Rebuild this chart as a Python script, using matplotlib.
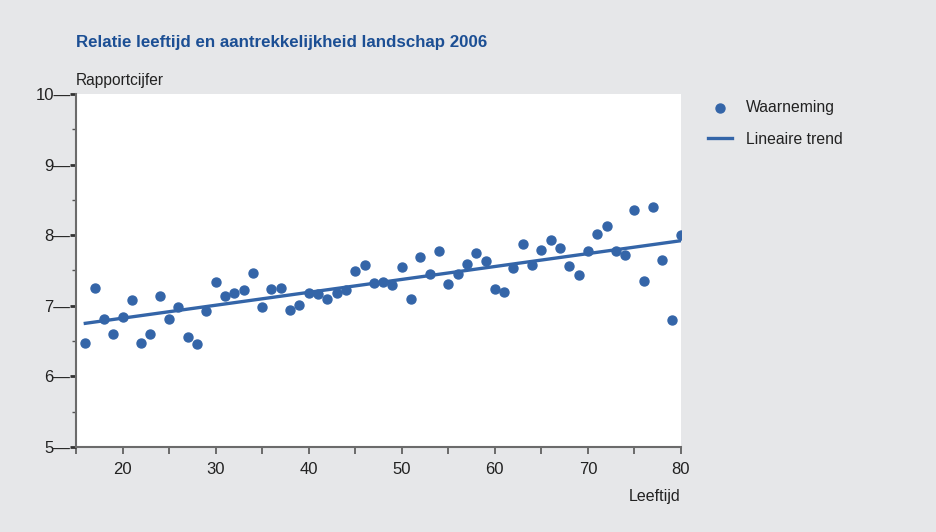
import numpy as np
import matplotlib
matplotlib.use("Agg")
from matplotlib import pyplot as plt
from matplotlib.ticker import MultipleLocator

# leeftijd en gemiddeld rapportcijfer
leeftijd = np.arange(16, 81)
rapportcijfer = np.array([
    6.47, 7.25, 6.81, 6.60, 6.84, 7.08, 6.47, 6.60, 7.14, 6.81,
    6.98, 6.56, 6.46, 6.93, 7.34, 7.14, 7.18, 7.22, 7.46, 6.98,
    7.24, 7.25, 6.94, 7.01, 7.18, 7.17, 7.10, 7.18, 7.22, 7.49,
    7.58, 7.32, 7.34, 7.29, 7.55, 7.10, 7.69, 7.45, 7.78, 7.31,
    7.45, 7.59, 7.75, 7.63, 7.24, 7.20, 7.54, 7.88, 7.58, 7.79,
    7.93, 7.82, 7.56, 7.44, 7.78, 8.02, 8.13, 7.78, 7.72, 8.36,
    7.35, 8.40, 7.65, 6.80, 8.00,
])

x_ticks = [20, 30, 40, 50, 60, 70, 80]
y_ticks = [5, 6, 7, 8, 9, 10]

blauw = '#3465a8'
titelblauw = '#1c4f94'
grijs = '#e6e7e9'

plt.rcParams['font.family'] = ['Liberation Sans', 'DejaVu Sans']

fig = plt.figure(figsize=(9.37, 5.32), dpi=100, facecolor=grijs)
ax = fig.add_axes([76/937, 1 - 447/532, 605/937, 353/532])
ax.set_facecolor('white')

# lineaire trend door de waarnemingen
m, b = np.polyfit(leeftijd, rapportcijfer, 1)
trend = m * leeftijd + b

ax.scatter(leeftijd, rapportcijfer, s=42, color=blauw, zorder=3, label='Waarneming')
ax.plot(leeftijd, trend, color=blauw, linewidth=2.4, label='Lineaire trend')

ax.set_xlim(15, 80)
ax.set_ylim(5, 10)
ax.set_xticks(x_ticks)
ax.set_yticks(y_ticks)
ax.set_yticklabels([str(v) + '\u2014' for v in y_ticks])
ax.xaxis.set_minor_locator(MultipleLocator(5))
ax.yaxis.set_minor_locator(MultipleLocator(0.5))

for s in ['top', 'right']:
    ax.spines[s].set_visible(False)
for s in ['left', 'bottom']:
    ax.spines[s].set_color('#6b6b6b')
    ax.spines[s].set_linewidth(1.5)

ax.tick_params(axis='x', which='major', length=5, width=1.2, color='#555555',
               labelsize=12, labelcolor='#222222', pad=6)
ax.tick_params(axis='x', which='minor', length=5, width=1.2, color='#555555')
ax.tick_params(axis='y', which='major', length=4, width=2, color='#333333',
               labelsize=12, labelcolor='#222222', pad=0)
ax.tick_params(axis='y', which='minor', length=3, width=1, color='#555555')

fig.text(76/937, 1 - 42/532, 'Relatie leeftijd en aantrekkelijkheid landschap 2006',
         fontsize=12.2, fontweight='bold', color=titelblauw, va='center', ha='left')
fig.text(76/937, 1 - 81/532, 'Rapportcijfer', fontsize=11.2, color='#222222',
         va='center', ha='left')
fig.text(681/937, 1 - 496/532, 'Leeftijd', fontsize=11.5, color='#222222',
         va='center', ha='right')

leg = ax.legend(loc='upper left', bbox_to_anchor=(1.035, 1.0), frameon=False,
                fontsize=11.3, handlelength=1.5, handletextpad=0.9,
                labelspacing=1.05, borderaxespad=0)
for t in leg.get_texts():
    t.set_color('#222222')

fig.savefig('out.png', dpi=100, facecolor=grijs)
